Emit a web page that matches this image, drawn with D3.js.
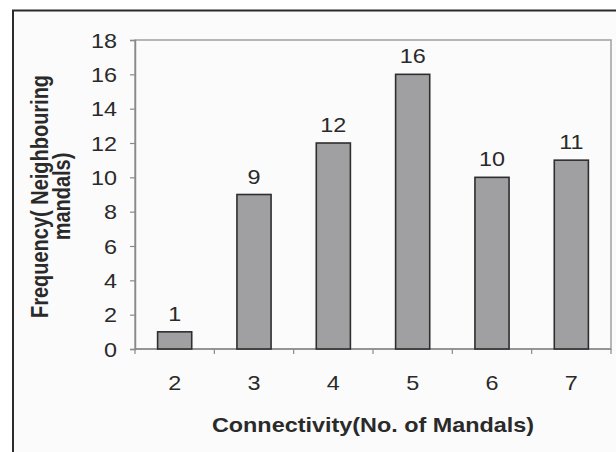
<!DOCTYPE html>
<html><head><meta charset="utf-8">
<script src="https://cdn.jsdelivr.net/npm/d3@7"></script>
<style>
html,body{margin:0;padding:0;background:#fff;}
svg{display:block;}
text{font-family:"Liberation Sans",Arial,sans-serif;fill:#2a2a2a;}
</style></head><body>
<script>
const categories = ["2","3","4","5","6","7"];
const values = [1,9,12,16,10,11];
const yTicks = [0,2,4,6,8,10,12,14,16,18];
const xTitle = "Connectivity(No. of Mandals)";
const yTitleLines = ["Frequency( Neighbouring","mandals)"];

const W = 616, H = 452;
const SX = 1.17, FS = 20;
const m = {left:135, right:611, top:40, bottom:349};
const svg = d3.select("body").append("svg").attr("width",W).attr("height",H);

svg.append("rect").attr("x",0).attr("y",0).attr("width",W).attr("height",H).attr("fill","#fff");
svg.append("rect").attr("x",13).attr("y",10.5).attr("width",W+20).attr("height",H+20)
  .attr("fill","#fbfbfb").attr("stroke","#2b2b2b").attr("stroke-width",2);

const x = d3.scaleBand().domain(categories).range([m.left,m.right]).paddingInner(0.57).paddingOuter(0.285);
const xb = d3.scaleBand().domain(categories).range([m.left,m.right]);
const y = d3.scaleLinear().domain([0,18]).range([m.bottom,m.top]);

// plot frame
svg.append("rect").attr("x",m.left).attr("y",m.top).attr("width",m.right-m.left).attr("height",m.bottom-m.top)
  .attr("fill","none").attr("stroke","#a0a0a0").attr("stroke-width",1.5);

// y axis
const yAx = svg.append("g").attr("transform",`translate(${m.left},0)`)
  .call(d3.axisLeft(y).tickValues(yTicks).tickSize(5).tickPadding(13));
yAx.select(".domain").attr("stroke","#8a8a8a").attr("stroke-width",1.5);
yAx.selectAll(".tick line").attr("stroke","#8a8a8a").attr("stroke-width",1.2);
yAx.selectAll("text").attr("font-size",FS).attr("fill","#2a2a2a").attr("dy","0.36em")
  .attr("x",0).attr("transform",`translate(-18,0) scale(${SX},1)`);

// x axis: ticks at category boundaries
const xAx = svg.append("g").attr("transform",`translate(0,${m.bottom})`);
xAx.append("line").attr("x1",m.left).attr("x2",m.right).attr("stroke","#8a8a8a").attr("stroke-width",1.5);
const bounds = categories.map(c=>xb(c)).concat([m.right]);
xAx.selectAll("line.tk").data(bounds).join("line").attr("class","tk")
  .attr("x1",d=>d).attr("x2",d=>d).attr("y1",0).attr("y2",5).attr("stroke","#8a8a8a").attr("stroke-width",1.2);
xAx.selectAll("text").data(categories).join("text")
  .attr("transform",d=>`translate(${xb(d)+xb.bandwidth()/2},41) scale(${SX},1)`)
  .attr("text-anchor","middle").attr("font-size",FS).text(d=>d);

// bars
svg.append("g").selectAll("rect").data(values).join("rect")
  .attr("x",(d,i)=>x(categories[i])).attr("width",x.bandwidth())
  .attr("y",d=>y(d)).attr("height",d=>y(0)-y(d))
  .attr("fill","#a0a0a3").attr("stroke","#2e2e2e").attr("stroke-width",1.6);

// value labels
svg.append("g").selectAll("text").data(values).join("text")
  .attr("transform",(d,i)=>`translate(${x(categories[i])+x.bandwidth()/2},${y(d)-11}) scale(${SX},1)`)
  .attr("text-anchor","middle").attr("font-size",FS).text(d=>d);

// titles
svg.append("text").attr("transform",`translate(${(m.left+m.right)/2},432) scale(${SX},1)`).attr("text-anchor","middle")
  .attr("font-size",FS).attr("font-weight","bold").text(xTitle);
const yt = svg.append("text").attr("transform",`translate(48,${(m.top+m.bottom)/2 + 2}) scale(${SX},1) rotate(-90)`)
  .attr("text-anchor","middle").attr("font-size",FS).attr("font-weight","bold");
yTitleLines.forEach((t,i)=>yt.append("tspan").attr("x",0).attr("dy",i===0?0:19).text(t));
</script>
</body></html>
